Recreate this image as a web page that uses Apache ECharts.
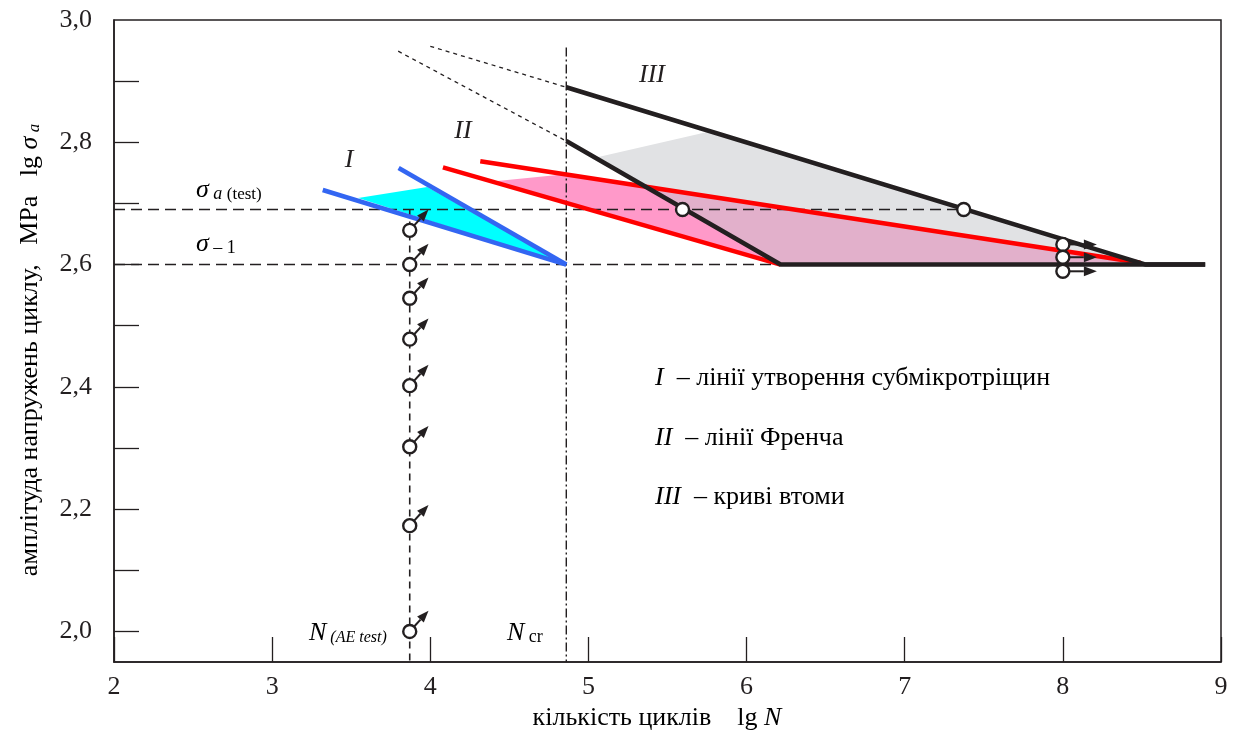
<!DOCTYPE html>
<html>
<head>
<meta charset="utf-8">
<script src="https://cdn.jsdelivr.net/npm/echarts@6/dist/echarts.min.js"></script>
<style>
  html, body { margin: 0; padding: 0; background: #fff; }
  #fatigue-chart { width: 1234px; height: 736px; }
</style>
</head>
<body>
<div id="fatigue-chart"></div>
<script>
// axis ticks
const xTickValues = [2, 3, 4, 5, 6, 7, 8, 9];
const yLabelValues = [2.0, 2.2, 2.4, 2.6, 2.8, 3.0];
const yTickValues = [2.0, 2.1, 2.2, 2.3, 2.4, 2.5, 2.6, 2.7, 2.8, 2.9];

// reference levels
const sigmaTest = 2.69;
const sigmaMinus1 = 2.6;
const lgNAeTest = 3.87;
const lgNcr = 4.86;

// I - submicrocrack lines
const lineIa = [[3.32, 2.722], [4.86, 2.6]];
const lineIb = [[3.80, 2.758], [4.86, 2.6]];
const zoneI = [[3.544, 2.709], [3.981, 2.727], [4.86, 2.6]];

// II - French lines
const lineIIa = [[4.08, 2.759], [6.215, 2.6]];
const lineIIb = [[4.316, 2.769], [8.49, 2.603]];
const zoneII = [[4.392, 2.736], [4.867, 2.748], [8.49, 2.603], [6.215, 2.6]];

// III - fatigue curves
const lineIIIa = [[4.86, 2.890], [8.525, 2.6], [8.9, 2.6]];
const lineIIIb = [[4.86, 2.802], [6.215, 2.6], [8.9, 2.6]];
const extIIIa = [[4.0, 2.957], [4.86, 2.890]];
const extIIIb = [[3.797, 2.949], [4.86, 2.802]];
const zoneIII = [[5.063, 2.776], [5.772, 2.818], [8.525, 2.6], [6.215, 2.6]];
const zoneOverlap = [[5.361, 2.728], [8.49, 2.603], [8.49, 2.6], [6.215, 2.6]];

// test points
const failures = [[5.595, 2.69], [7.373, 2.69]];
const runouts = [[8.0, 2.633], [8.0, 2.612], [8.0, 2.589]];
const aeTests = [[3.87, 2.656], [3.87, 2.6], [3.87, 2.545], [3.87, 2.478],
                 [3.87, 2.402], [3.87, 2.302], [3.87, 2.173], [3.87, 2.0]];

const ink = '#231F20';
const serif = '"Liberation Serif", "DejaVu Serif", serif';

function lineSeries(data, color, width, type) {
  return {
    type: 'line',
    data: data,
    symbol: 'none',
    silent: true,
    animation: false,
    z: 3,
    lineStyle: { color: color, width: width, type: type || 'solid', cap: 'butt' }
  };
}

function zoneSeries(points, color) {
  return {
    type: 'custom',
    silent: true,
    animation: false,
    z: 1,
    data: points,
    renderItem: function (params, api) {
      if (params.dataIndex !== 0) return;
      return {
        type: 'polygon',
        shape: { points: points.map(p => api.coord(p)) },
        style: { fill: color }
      };
    }
  };
}

function arrowSeries(points, dx, dy, len, startOff, headLen, hw) {
  const l = Math.sqrt(dx * dx + dy * dy);
  const ux = dx / l, uy = dy / l;
  return {
    type: 'custom',
    silent: true,
    animation: false,
    z: 4,
    data: points,
    renderItem: function (params, api) {
      const c = api.coord([api.value(0), api.value(1)]);
      const tip = [c[0] + ux * len, c[1] + uy * len];
      const base = [tip[0] - ux * headLen, tip[1] - uy * headLen];
      const nx = -uy, ny = ux;
      return {
        type: 'group',
        children: [{
          type: 'line',
          shape: { x1: c[0] + ux * startOff, y1: c[1] + uy * startOff, x2: base[0], y2: base[1] },
          style: { stroke: ink, lineWidth: 2 }
        }, {
          type: 'polygon',
          shape: { points: [tip, [base[0] + nx * hw, base[1] + ny * hw], [base[0] - nx * hw, base[1] - ny * hw]] },
          style: { fill: ink }
        }]
      };
    }
  };
}

function circleSeries(data) {
  return {
    type: 'scatter',
    data: data,
    symbol: 'circle',
    symbolSize: 13,
    silent: true,
    animation: false,
    z: 5,
    itemStyle: { color: '#fff', opacity: 1, borderColor: ink, borderWidth: 2.4 }
  };
}

const chart = echarts.init(document.getElementById('fatigue-chart'));

const option = {
  animation: false,
  grid: {
    left: 114, right: 13, top: 20, bottom: 74,
    show: true, borderColor: ink, borderWidth: 1.5, backgroundColor: 'transparent'
  },
  xAxis: {
    type: 'value', min: 2, max: 9, interval: 1,
    axisLine: { show: true, onZero: false, lineStyle: { color: ink, width: 1.5 } },
    axisTick: { show: true, inside: true, length: 25, lineStyle: { color: ink, width: 1.3 } },
    axisLabel: { color: ink, fontSize: 26, fontFamily: serif, margin: 12 },
    splitLine: { show: false }
  },
  yAxis: {
    type: 'value', min: 1.95, max: 3.0,
    axisLine: { show: true, onZero: false, lineStyle: { color: ink, width: 1.5 } },
    axisTick: { show: true, inside: true, length: 25, customValues: yTickValues, lineStyle: { color: ink, width: 1.3 } },
    axisLabel: {
      color: ink, fontSize: 26, fontFamily: serif, margin: 22,
      customValues: yLabelValues,
      formatter: v => v.toFixed(1).replace('.', ',')
    },
    splitLine: { show: false }
  },
  series: [
    zoneSeries(zoneIII, '#E1E2E4'),
    zoneSeries(zoneII, '#FF99C9'),
    zoneSeries(zoneOverlap, '#E2B0CB'),
    zoneSeries(zoneI, '#00FFFF'),
    lineSeries([[2, sigmaTest], [failures[1][0], sigmaTest]], ink, 1.6, [11, 6]),
    lineSeries([[2, sigmaMinus1], [lineIIb[1][0], sigmaMinus1]], ink, 1.6, [11, 6]),
    lineSeries([[lgNAeTest, sigmaTest], [lgNAeTest, 1.95]], ink, 1.6, [7, 5]),
    lineSeries([[lgNcr, 2.955], [lgNcr, 1.95]], ink, 1.4, [9, 3, 2, 3]),
    lineSeries(extIIIa, ink, 1.3, [4, 4]),
    lineSeries(extIIIb, ink, 1.3, [4, 4]),
    lineSeries(lineIa, '#3366F2', 4.5),
    lineSeries(lineIb, '#3366F2', 4.5),
    lineSeries(lineIIa, '#FF0000', 4.5),
    lineSeries(lineIIb, '#FF0000', 4.5),
    lineSeries(lineIIIa, ink, 4.5),
    lineSeries(lineIIIb, ink, 4.5),
    arrowSeries(aeTests, 19, -21, 28, 6, 12, 4.5),
    arrowSeries(runouts, 1, 0, 34, 6, 13, 5),
    circleSeries(aeTests),
    circleSeries(failures),
    circleSeries(runouts)
  ],
  graphic: [
    { type: 'text', x: 349, y: 160, style: { text: 'I', font: 'italic 26px ' + serif, fill: ink, align: 'center', verticalAlign: 'middle' } },
    { type: 'text', x: 463, y: 131, style: { text: 'II', font: 'italic 26px ' + serif, fill: ink, align: 'center', verticalAlign: 'middle' } },
    { type: 'text', x: 652, y: 75, style: { text: 'III', font: 'italic 26px ' + serif, fill: ink, align: 'center', verticalAlign: 'middle' } },
    { type: 'text', x: 196, y: 190, style: {
        text: '{g|σ}{s| a }{t|(test)}', verticalAlign: 'middle',
        rich: {
          g: { fontFamily: serif, fontStyle: 'italic', fontSize: 26, color: ink },
          s: { fontFamily: serif, fontStyle: 'italic', fontSize: 18, color: ink, padding: [9, 0, 0, 0] },
          t: { fontFamily: serif, fontSize: 17, color: ink, padding: [9, 0, 0, 0] }
        } } },
    { type: 'text', x: 196, y: 244, style: {
        text: '{g|σ}{t| – 1}', verticalAlign: 'middle',
        rich: {
          g: { fontFamily: serif, fontStyle: 'italic', fontSize: 26, color: ink },
          t: { fontFamily: serif, fontSize: 18, color: ink, padding: [9, 0, 0, 0] }
        } } },
    { type: 'text', x: 309, y: 633, style: {
        text: '{g|N}{t| (AE test)}', verticalAlign: 'middle',
        rich: {
          g: { fontFamily: serif, fontStyle: 'italic', fontSize: 26, color: ink },
          t: { fontFamily: serif, fontStyle: 'italic', fontSize: 16, color: ink, padding: [9, 0, 0, 0] }
        } } },
    { type: 'text', x: 507, y: 633, style: {
        text: '{g|N}{t| cr}', verticalAlign: 'middle',
        rich: {
          g: { fontFamily: serif, fontStyle: 'italic', fontSize: 26, color: ink },
          t: { fontFamily: serif, fontSize: 18, color: ink, padding: [9, 0, 0, 0] }
        } } },
    { type: 'text', x: 655, y: 378, style: {
        text: '{i|I }{r| – лінії утворення субмікротріщин}', verticalAlign: 'middle',
        rich: { i: { fontFamily: serif, fontStyle: 'italic', fontSize: 26, color: ink }, r: { fontFamily: serif, fontSize: 26, color: ink } } } },
    { type: 'text', x: 655, y: 438, style: {
        text: '{i|II }{r| – лінії Френча}', verticalAlign: 'middle',
        rich: { i: { fontFamily: serif, fontStyle: 'italic', fontSize: 26, color: ink }, r: { fontFamily: serif, fontSize: 26, color: ink } } } },
    { type: 'text', x: 655, y: 497, style: {
        text: '{i|III }{r| – криві втоми}', verticalAlign: 'middle',
        rich: { i: { fontFamily: serif, fontStyle: 'italic', fontSize: 26, color: ink }, r: { fontFamily: serif, fontSize: 26, color: ink } } } },
    { type: 'text', x: 30, y: 350, rotation: Math.PI / 2, style: {
        text: '{r|амплітуда напружень циклу,   MPa   lg }{g|σ}{s| a}', align: 'center', verticalAlign: 'middle',
        rich: {
          r: { fontFamily: serif, fontSize: 26, color: ink },
          g: { fontFamily: serif, fontStyle: 'italic', fontSize: 26, color: ink },
          s: { fontFamily: serif, fontStyle: 'italic', fontSize: 17, color: ink, padding: [9, 0, 0, 0] }
        } } },
    { type: 'text', x: 657, y: 718, style: {
        text: '{r|кількість циклів    lg }{g|N}', align: 'center', verticalAlign: 'middle',
        rich: {
          r: { fontFamily: serif, fontSize: 26, color: ink },
          g: { fontFamily: serif, fontStyle: 'italic', fontSize: 26, color: ink }
        } } }
  ]
};

chart.setOption(option);
</script>
</body>
</html>
